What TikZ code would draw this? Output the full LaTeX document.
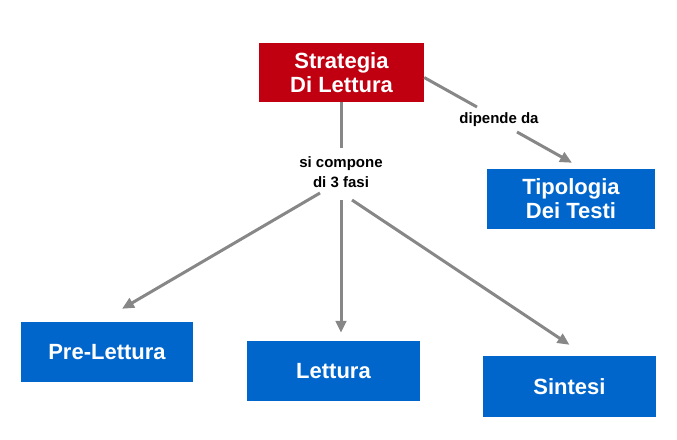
\documentclass[tikz,border=0pt]{standalone}
\usepackage{fontspec}
\setmainfont{Liberation Sans}
\usetikzlibrary{arrows.meta,calc}
\definecolor{boxred}{HTML}{C00010}
\definecolor{boxblue}{HTML}{0066CC}
\definecolor{arrgray}{HTML}{878787}
\tikzset{
  box/.style={rectangle, inner sep=0pt, text=white, align=center,
    font=\fontsize{22}{24}\selectfont\bfseries},
  redbox/.style={box, fill=boxred},
  bluebox/.style={box, fill=boxblue},
  lab/.style={align=center, inner sep=0pt, font=\fontsize{15}{20}\selectfont\bfseries},
  arr/.style={draw=arrgray, line width=3pt, -{Triangle[length=12pt,width=10.5pt]}},
  ln/.style={draw=arrgray, line width=3pt}
}
\begin{document}
\begin{tikzpicture}[x=1pt,y=-1pt]
\useasboundingbox (0,0) rectangle (677,439);
\node[redbox, minimum width=165pt, minimum height=59pt] (strat) at (341.5,72.5) {Strategia\\Di Lettura};
\node[bluebox, minimum width=168pt, minimum height=60pt] (tipo) at (571,199) {Tipologia\\Dei Testi};
\node[bluebox, minimum width=172pt, minimum height=60pt] (pre) at (107,352) {Pre-Lettura};
\node[bluebox, minimum width=173pt, minimum height=60pt] (lett) at (333.5,371) {Lettura};
\node[bluebox, minimum width=173pt, minimum height=61pt] (sint) at (569.5,386.5) {Sintesi};
\node[lab] (fasi) at (341,172) {si compone\\di 3 fasi};
\node[lab] (dip) at (499,120) {dipende da};

\draw[ln] ($(strat.south)+(-0.5,0)$) -- ($(fasi.center)+(0,-24)$);
\draw[arr] ($(fasi.center)+(-21,21)$) -- ($(pre.north)+(15,-13)$);
\draw[arr] ($(fasi.center)+(0,28)$) -- ($(lett.north)+(7.5,-8)$);
\draw[arr] ($(fasi.center)+(11,28)$) -- ($(sint.north)+(0,-11)$);
\draw[ln] ($(strat.east)+(0,5)$) -- ($(dip.center)+(-22,-13)$);
\draw[arr] ($(dip.center)+(18,12)$) -- ($(tipo.north)+(1,-6)$);
\end{tikzpicture}
\end{document}
